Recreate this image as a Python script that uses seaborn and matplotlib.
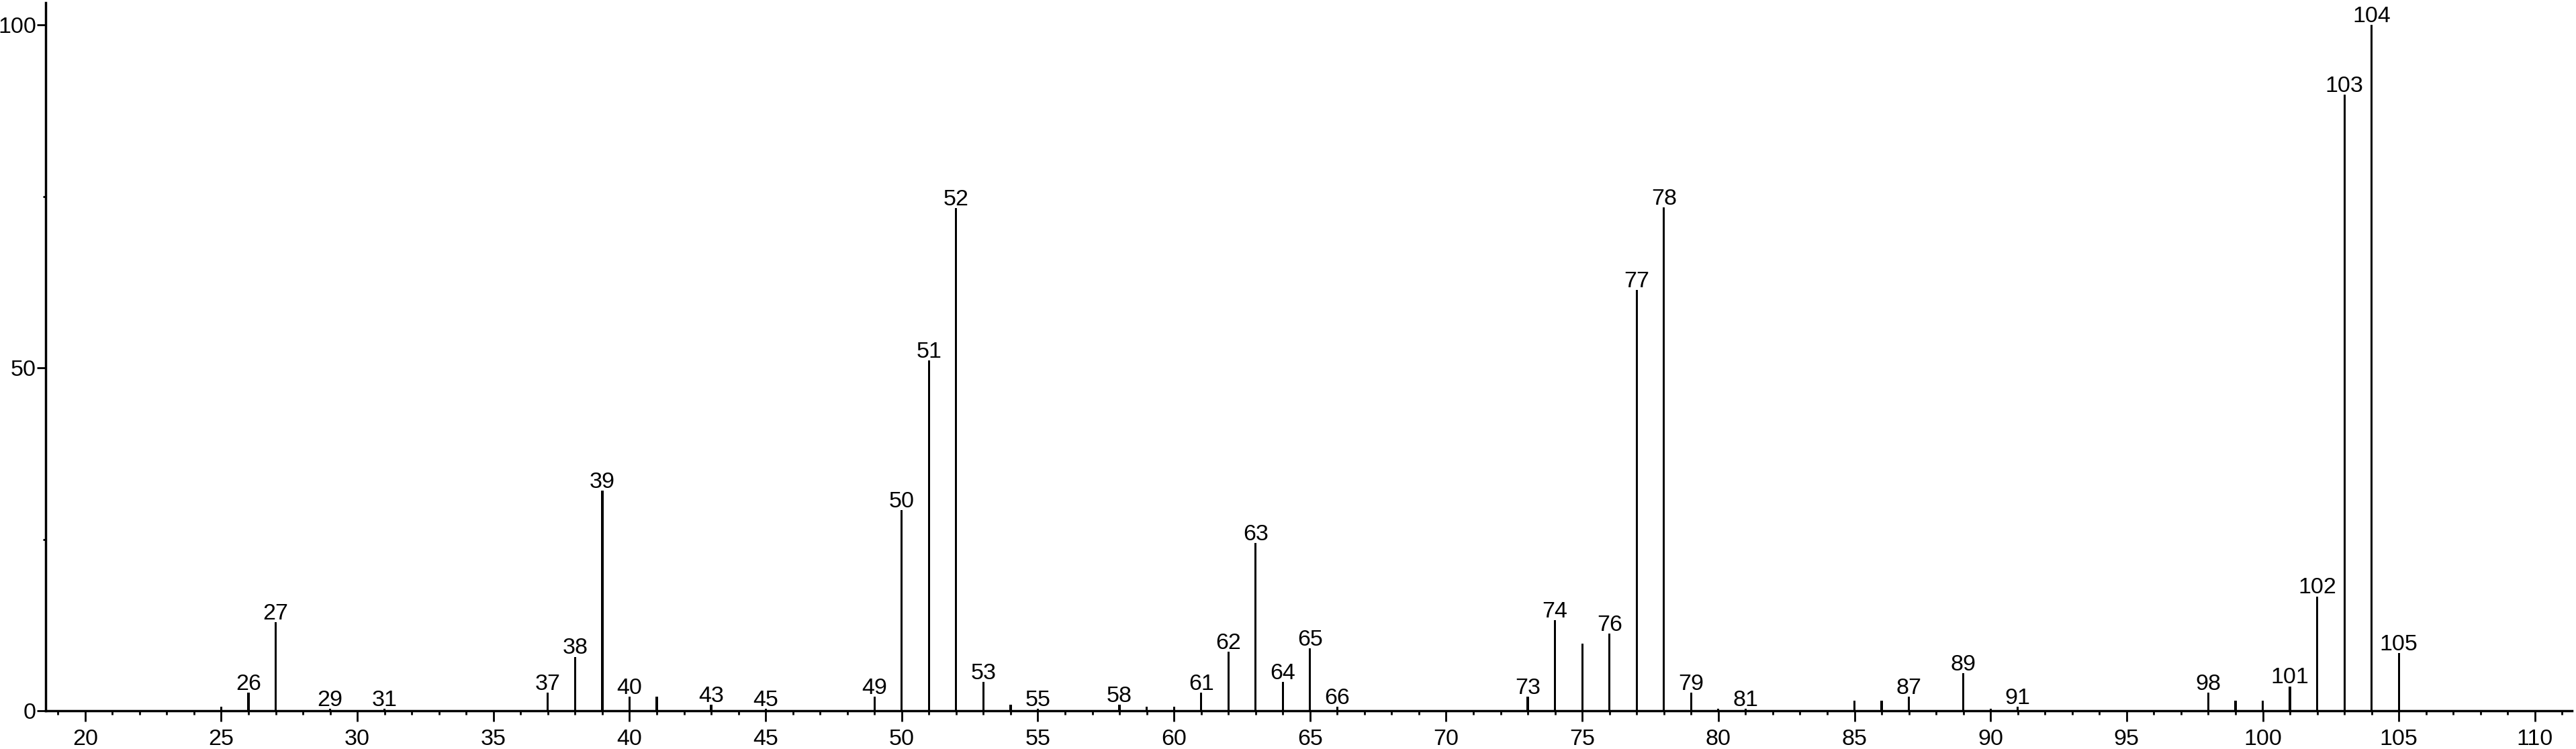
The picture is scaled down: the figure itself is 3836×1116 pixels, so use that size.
import matplotlib
matplotlib.use("Agg")
import matplotlib.pyplot as plt
from matplotlib.ticker import MultipleLocator
import seaborn as sns
import pandas as pd

# ---- data ----
mz = [25, 26, 27, 29, 31, 37, 38, 39, 40, 41, 43, 45, 49, 50, 51, 52, 53, 54,
      55, 58, 59, 60, 61, 62, 63, 64, 65, 66, 73, 74, 75, 76, 77, 78, 79, 80,
      81, 85, 86, 87, 89, 90, 91, 98, 99, 100, 101, 102, 103, 104, 105]
intensity = [0.6, 2.7, 12.9, 0.3, 0.3, 2.7, 7.9, 32.1, 2.1, 2.1, 0.9, 0.3, 2.1,
             29.3, 51.1, 73.3, 4.2, 0.9, 0.3, 0.9, 0.6, 0.6, 2.7, 8.6, 24.5,
             4.2, 9.1, 0.6, 2.1, 13.2, 9.8, 11.3, 61.4, 73.4, 2.7, 0.3, 0.3,
             1.5, 1.5, 2.1, 5.5, 0.3, 0.6, 2.7, 1.5, 1.5, 3.6, 16.7, 89.8,
             100.0, 8.4]
labeled_mz = [26, 27, 29, 31, 37, 38, 39, 40, 43, 45, 49, 50, 51, 52, 53, 55,
              58, 61, 62, 63, 64, 65, 66, 73, 74, 76, 77, 78, 79, 81, 87, 89,
              91, 98, 101, 102, 103, 104, 105]
x_major_ticks = list(range(20, 111, 5))
y_major_ticks = [0, 50, 100]
y_minor_ticks = [25, 75]

df = pd.DataFrame({"mz": mz, "intensity": intensity})

sns.set_theme(style="ticks")
plt.rcParams["font.family"] = ["Liberation Sans", "DejaVu Sans"]

W, H, DPI = 3836, 1116, 100
fig = plt.figure(figsize=(W / DPI, H / DPI), dpi=DPI)
fig.patch.set_facecolor("white")
ax = fig.add_axes([68.4 / W, (H - 1059.3) / H, (3830 - 68.4) / W, (1059.3 - 3.5) / H])
ax.set_facecolor("white")

sns.barplot(data=df, x="mz", y="intensity", native_scale=True, orient="x",
            width=0.08, color="black", saturation=1, errorbar=None,
            linewidth=0, ax=ax)

lookup = dict(zip(mz, intensity))
for m in labeled_mz:
    ax.annotate(str(m), xy=(m, lookup[m]), xytext=(0, 3.0),
                textcoords="offset points", ha="center", va="baseline",
                fontsize=24.5, color="black")

ax.set_xlim(18.56, 111.36)
ax.set_ylim(0, 103.3)
ax.set_xlabel("")
ax.set_ylabel("")

ax.set_xticks(x_major_ticks)
ax.set_xticklabels([str(t) for t in x_major_ticks])
ax.xaxis.set_minor_locator(MultipleLocator(1))
ax.set_yticks(y_major_ticks)
ax.set_yticklabels([str(t) for t in y_major_ticks])
ax.set_yticks(y_minor_ticks, minor=True)

sns.despine(ax=ax)
for side in ("left", "bottom"):
    ax.spines[side].set_linewidth(2.5)
    ax.spines[side].set_color("black")

ax.tick_params(axis="x", which="major", direction="out", length=11.5, width=2,
               pad=8, labelsize=24.5, color="black", labelcolor="black")
ax.tick_params(axis="x", which="minor", direction="out", length=4.5, width=2,
               color="black")
ax.tick_params(axis="y", which="major", direction="out", length=9.5, width=2,
               pad=1, labelsize=24.5, color="black", labelcolor="black")
ax.tick_params(axis="y", which="minor", direction="out", length=3.2, width=2,
               color="black")

fig.savefig("out.png", dpi=DPI, facecolor="white")
